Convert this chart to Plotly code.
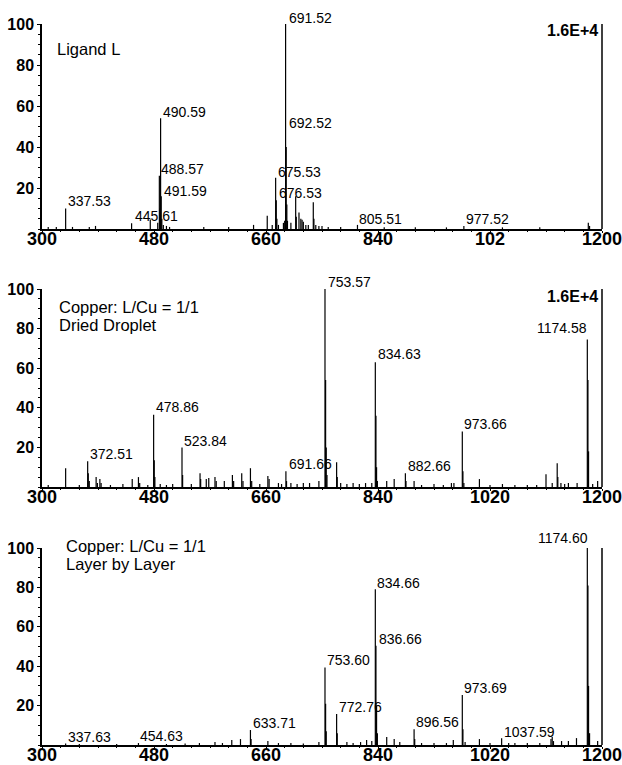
import plotly.graph_objects as go

# ---------------- data ----------------
x_ticks = [300, 480, 660, 840, 1020, 1200]
x_ticklabels_top = ["300", "480", "660", "840", "102", "1200"]
x_ticklabels = ["300", "480", "660", "840", "1020", "1200"]
y_ticks = [20, 40, 60, 80, 100]

# Panel 1: Ligand L
lig_mz = [310, 323, 338, 349, 376, 386, 444, 474, 486, 488.6, 489.6, 490.6, 491.6, 492.6, 495, 500, 505,
          560, 600, 640, 662, 670, 675.5, 676.5, 677.5, 680, 688, 690, 691.5, 692.5, 693.5, 694.5,
          700, 707.7, 708.7, 713, 716, 718, 720, 724, 728, 736, 737, 740, 745, 750, 760, 780,
          807, 850, 900, 950, 978, 1040, 1100, 1178, 1180]
lig_int = [1, 1, 10, 1, 1, 1.5, 2.8, 4.6, 3, 26, 10, 54, 16, 5, 2, 1.5, 1,
           1, 1, 2, 6.5, 2, 25, 14, 5, 2, 3, 4, 100, 40, 12, 4,
           3, 16, 6, 8, 5, 4.5, 3.5, 2, 2, 13, 5, 2, 1.5, 1.5, 1, 1,
           2, 0.8, 0.8, 0.8, 1.5, 0.8, 0.8, 3, 1.5]
lig_labels = [("337.53", 338, 13.6), ("445.61", 446.7, 6.2), ("490.59", 491.2, 57),
              ("488.57", 488, 29.3), ("491.59", 493, 18.5), ("691.52", 693, 103),
              ("692.52", 694, 51.7), ("675.53", 676, 28), ("676.53", 677, 17.6),
              ("805.51", 805.7, 5.1), ("977.52", 978, 5.1)]

# Panel 2: Copper L/Cu = 1/1, dried droplet
dd_mz = [310, 338, 360, 373.4, 374.4, 376, 387, 389, 393, 395, 410, 430, 445, 455, 457, 470,
         479.4, 480.4, 481.4, 490, 500, 510, 525, 526, 540, 554, 555, 564, 568, 578, 580, 593,
         606, 608, 621, 623, 635, 637, 650, 663, 665, 680, 685, 692, 693, 700, 710, 720, 730, 745,
         754.8, 755.8, 756.8, 758, 773.5, 774.5, 780, 790, 800, 810, 820, 830,
         835.7, 836.7, 837.7, 839, 854, 866, 884, 885, 898, 910, 930, 945, 958, 962,
         975.5, 976.5, 978, 1003, 1020, 1040, 1060, 1080, 1095, 1110, 1120, 1128, 1129, 1134,
         1140, 1146, 1160, 1176.4, 1177.4, 1178.4, 1185, 1193]
dd_int = [1, 9.5, 1, 13, 7, 3, 5, 2, 4, 2, 1, 1.5, 4, 5, 2, 1,
          36.5, 13.5, 5, 1.5, 1, 1.5, 20, 6, 1.5, 7, 4, 4, 4.5, 5, 3, 3,
          6, 3, 7, 3, 9.5, 3, 1.5, 5.5, 4, 2, 1.5, 8, 3, 2, 1.5, 2, 2, 3,
          100, 54, 20, 6, 12.5, 5, 2, 1.5, 2, 1.5, 2, 2,
          63, 36, 10, 3, 3, 4, 7, 3, 3, 1, 1.5, 1, 2, 2,
          28, 8, 2, 4, 1, 1.5, 1, 1, 1, 6.5, 2, 12, 5, 2,
          1.5, 2, 2, 74.5, 54, 18, 1.5, 3]
dd_labels = [("372.51", 373.4, 16.5), ("478.86", 480, 40.4), ("523.84", 525, 23.2),
             ("691.66", 693, 11.8), ("753.57", 756, 103.5), ("834.63", 836.7, 67),
             ("882.66", 885, 10.6), ("973.66", 975.5, 31.7)]
dd_labels_left = [("1174.58", 1179.5, 80.5)]

# Panel 3: Copper L/Cu = 1/1, layer by layer
lbl_mz = [338, 360, 420, 455, 500, 530, 553, 578, 590, 605, 619, 635, 636, 663, 680, 700, 720, 745,
          754.8, 755.8, 756.8, 773.5, 774.5, 790, 800, 812, 821.7, 830,
          835.7, 836.7, 837.7, 839, 854, 866, 875, 898, 899, 910, 930, 950, 961,
          975.5, 976.5, 980, 1003, 1020, 1038.7, 1050, 1060, 1080, 1100, 1118, 1120, 1122,
          1135, 1146, 1159, 1176.4, 1177.4, 1178.4, 1180, 1193]
lbl_int = [0.8, 0.5, 0.5, 1, 0.5, 0.8, 1, 1.5, 1, 2.5, 3, 7.6, 3, 2, 1, 1, 0.8, 1.5,
           39.4, 21, 7, 15.7, 6, 1.5, 1, 1.5, 2.5, 2,
           79, 50.4, 20, 6, 4, 3, 1.5, 8, 3, 1, 1, 1, 2.5,
           25.4, 8, 1.5, 3, 1, 3.4, 1, 1, 1, 1, 3, 4, 2,
           2, 2, 3.5, 100, 81, 30, 6, 2]
lbl_labels = [("337.63", 338.6, 4.2), ("454.63", 454.8, 4.7), ("633.71", 635.3, 11.3),
              ("753.60", 754.8, 43), ("772.76", 773.5, 19.5), ("834.66", 835.7, 82.4),
              ("836.66", 837.7, 54), ("896.56", 898, 11.8), ("973.69", 975.5, 29),
              ("1037.59", 1039.7, 6.8)]
lbl_labels_left = [("1174.60", 1180, 105)]

# ---------------- figure ----------------
W, H = 622, 765
X0, X1 = 300, 1200
x_dom = [42 / W, 602 / W]
y_doms = [[(H - 229) / H, (H - 24) / H],
          [(H - 487) / H, (H - 289) / H],
          [(H - 745) / H, (H - 548) / H]]

FONT = "Arial, Liberation Sans, sans-serif"


def sticks(mz, inten):
    xs, ys = [], []
    for m, i in zip(mz, inten):
        xs += [m, m, None]
        ys += [0, i, None]
    return xs, ys


def sfx(k):
    return "" if k == 0 else str(k + 1)


fig = go.Figure()
panels = [(lig_mz, lig_int), (dd_mz, dd_int), (lbl_mz, lbl_int)]
for k, (mz, inten) in enumerate(panels):
    xs, ys = sticks(mz, inten)
    fig.add_trace(go.Scatter(x=xs, y=ys, mode="lines", line=dict(color="black", width=1.2),
                             xaxis="x" + sfx(k), yaxis="y" + sfx(k), hoverinfo="skip",
                             showlegend=False))

layout = dict(width=W, height=H, margin=dict(l=0, r=0, t=0, b=0, autoexpand=False),
              paper_bgcolor="white", plot_bgcolor="white", showlegend=False,
              template="none")
annotations = []
shapes = []
for k in range(3):
    s = sfx(k)
    layout["xaxis" + s] = dict(
        domain=x_dom, anchor="y" + s, range=[X0, X1], automargin=False,
        tickvals=x_ticks, ticktext=x_ticklabels_top if k == 0 else x_ticklabels,
        showline=True, linecolor="black", linewidth=2, ticks="outside", ticklen=2,
        tickcolor="black", showgrid=False, zeroline=False, ticklabeloverflow="allow",
        ticklabelstandoff=-10,
        tickfont=dict(family=FONT, size=18, color="black", weight="bold"),
        minor=dict(ticks="outside", ticklen=1, dtick=30, tickcolor="black", showgrid=False))
    layout["yaxis" + s] = dict(
        domain=y_doms[k], anchor="x" + s, range=[0, 100], automargin=False,
        tickvals=y_ticks, showline=True, linecolor="black", linewidth=1.5,
        ticks="outside", ticklen=3, tickcolor="black", showgrid=False, zeroline=False,
        ticklabeloverflow="allow",
        tickfont=dict(family=FONT, size=16, color="black", weight="bold"),
        minor=dict(ticks="outside", ticklen=2, dtick=5, tickcolor="black", showgrid=False))
    # right-hand frame line at the end of the m/z range
    shapes.append(dict(type="line", xref="x" + s + " domain", yref="y" + s + " domain",
                       x0=1, x1=1, y0=0, y1=1, line=dict(color="black", width=1.5)))


def add_text(k, txt, mx, iy, anchor="left", size=14, bold=False):
    s = sfx(k)
    annotations.append(dict(x=(mx - X0) / (X1 - X0), y=iy / 100.0,
                            xref="x" + s + " domain", yref="y" + s + " domain",
                            text=("<b>%s</b>" % txt) if bold else txt,
                            showarrow=False, xanchor=anchor, yanchor="middle",
                            font=dict(family=FONT, size=size, color="black")))


for k, labels, left_labels in [(0, lig_labels, []), (1, dd_labels, dd_labels_left),
                               (2, lbl_labels, lbl_labels_left)]:
    for txt, mx, iy in labels:
        add_text(k, txt, mx, iy)
    for txt, mx, iy in left_labels:
        add_text(k, txt, mx, iy, anchor="right")

# panel titles
titles = [(0, "Ligand L", 321, 88), (1, "Copper: L/Cu = 1/1", 324.6, 91), (1, "Dried Droplet", 324.6, 81.8),
          (2, "Copper: L/Cu = 1/1", 335.9, 101), (2, "Layer by Layer", 335.9, 91.7)]
for k, txt, mx, iy in titles:
    add_text(k, txt, mx, iy, size=16.5)

# intensity scale labels
for k, iy in [(0, 97), (1, 96.3)]:
    add_text(k, "1.6E+4", 1196.7, iy, anchor="right", size=16, bold=True)

layout["annotations"] = annotations
layout["shapes"] = shapes
fig.update_layout(**layout)
fig.write_html("out.html")
